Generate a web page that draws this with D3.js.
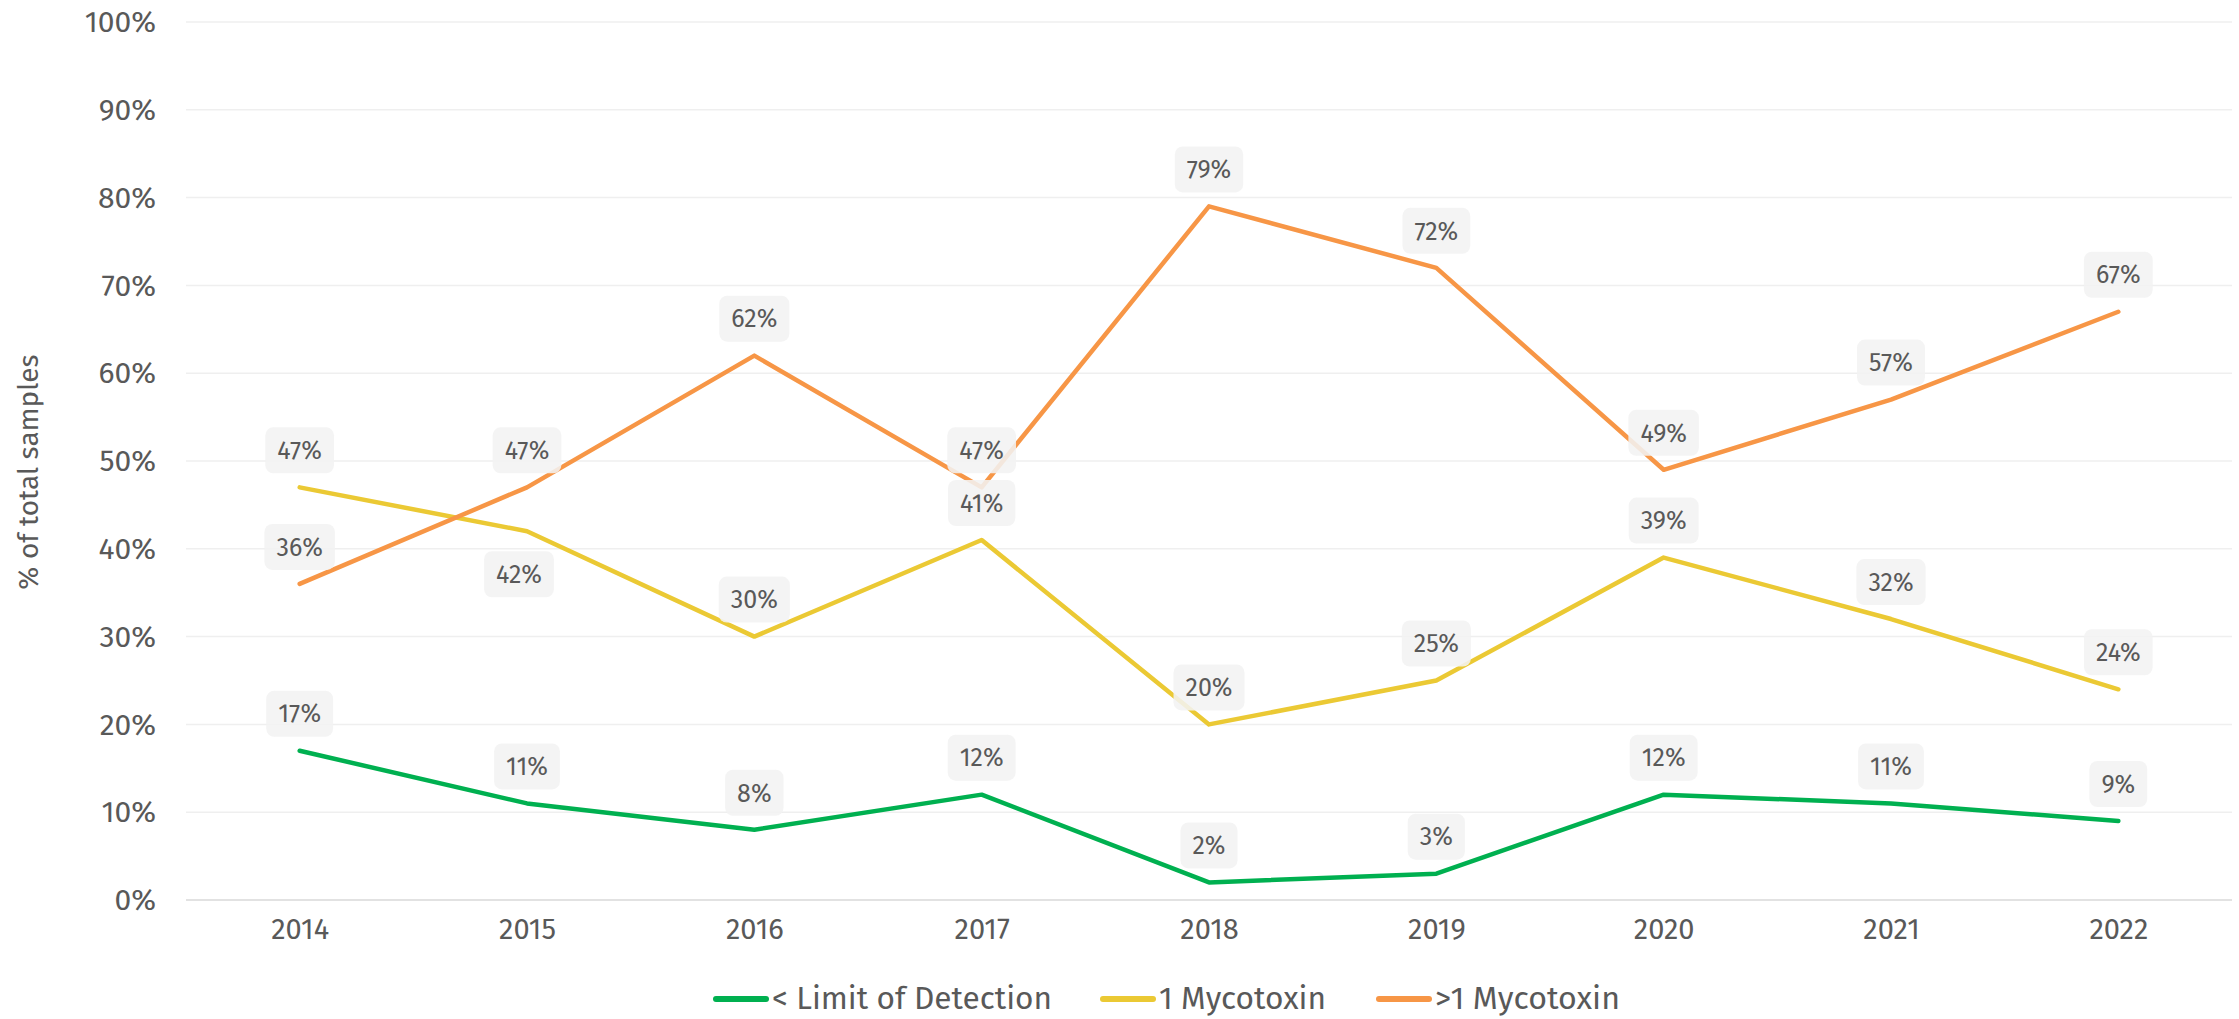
<!DOCTYPE html>
<html>
<head>
<meta charset="utf-8">
<script src="https://cdn.jsdelivr.net/npm/d3@7"></script>
<style>
  body { margin: 0; background: #fff; }
  text { font-family: "Fira Sans", "Noto Sans", sans-serif; fill: #595959; }
</style>
</head>
<body>
<div id="chart"></div>
<script>
// Data
var years = ["2014", "2015", "2016", "2017", "2018", "2019", "2020", "2021", "2022"];
var seriesNames = ["< Limit of Detection", "1 Mycotoxin", ">1 Mycotoxin"];
var belowLOD = [17, 11, 8, 12, 2, 3, 12, 11, 9];
var oneMyco = [47, 42, 30, 41, 20, 25, 39, 32, 24];
var multiMyco = [36, 47, 62, 47, 79, 72, 49, 57, 67];
var yTicks = [0, 10, 20, 30, 40, 50, 60, 70, 80, 90, 100];
var colors = ["#00b050", "#ebc934", "#f79646"];

var seriesValues = [belowLOD, oneMyco, multiMyco];

var svgWidth = 2239;
var svgHeight = 1019;
var margin = { top: 22, right: 7, bottom: 119, left: 186 };
var width = svgWidth - margin.left - margin.right;
var height = svgHeight - margin.top - margin.bottom;

var svg = d3.select("#chart")
    .append("svg")
    .attr("width", svgWidth)
    .attr("height", svgHeight);

var chartGroup = svg.append("g").attr("transform", `translate(${margin.left}, ${margin.top})`);

// Scales
var xScale = d3.scalePoint()
    .domain(years)
    .range([0, width])
    .padding(0.5);

var yScale = d3.scaleLinear()
    .domain([0, 100])
    .range([height, 0]);

// Gridlines
chartGroup.selectAll(".grid")
    .data(yTicks)
    .enter()
    .append("line")
    .attr("x1", 0)
    .attr("x2", width)
    .attr("y1", d => yScale(d))
    .attr("y2", d => yScale(d))
    .attr("stroke", d => d === 0 ? "#d9d9d9" : "#efefef")
    .attr("stroke-width", 1.5);

// Y axis labels
var leftAxis = d3.axisLeft(yScale).tickValues(yTicks).tickFormat(d => d + "%").tickSize(0).tickPadding(30);
var yAxis = chartGroup.append("g").call(leftAxis);
yAxis.select(".domain").remove();
yAxis.selectAll("text")
    .style("font-size", "30px")
    .attr("fill", "#595959");

// X axis labels
var bottomAxis = d3.axisBottom(xScale).tickSize(0).tickPadding(18);
var xAxis = chartGroup.append("g")
    .attr("transform", `translate(0, ${height})`)
    .call(bottomAxis);
xAxis.select(".domain").remove();
xAxis.selectAll("text")
    .style("font-size", "29px")
    .attr("fill", "#595959");

// Y title
svg.append("text")
    .attr("transform", "rotate(-90)")
    .attr("x", -472)
    .attr("y", 38)
    .attr("text-anchor", "middle")
    .style("font-size", "28px")
    .text("% of total samples");

// Lines
var line = d3.line()
    .x((d, i) => xScale(years[i]))
    .y(d => yScale(d));

chartGroup.selectAll(".series")
    .data(seriesValues)
    .enter()
    .append("path")
    .attr("d", d => line(d))
    .attr("fill", "none")
    .attr("stroke", (d, i) => colors[i])
    .attr("stroke-width", 4.5)
    .attr("stroke-linecap", "round")
    .attr("stroke-linejoin", "round");

// Data labels (only 2015 "1 Mycotoxin" sits below its point)
var labelsBelow = ["1-1"];
var labelData = [];
seriesValues.forEach(function(vals, s) {
    vals.forEach(function(v, i) {
        labelData.push({ s: s, i: i, v: v, below: labelsBelow.indexOf(s + "-" + i) >= 0 });
    });
});

var labels = chartGroup.selectAll(".lbl")
    .data(labelData)
    .enter()
    .append("g")
    .attr("transform", d => `translate(${xScale(years[d.i]) - (d.below ? 8 : 0)}, ${yScale(d.v) + (d.below ? 43 : -37)})`);

var rects = labels.append("rect")
    .attr("fill", "#f2f2f2")
    .attr("fill-opacity", 0.88)
    .attr("rx", 8)
    .attr("ry", 8);

var texts = labels.append("text")
    .attr("text-anchor", "middle")
    .attr("dy", "0.35em")
    .style("font-size", "25px")
    .text(d => d.v + "%");

texts.each(function(d) {
    var w = this.getComputedTextLength() + 24;
    d3.select(this.parentNode).select("rect")
        .attr("x", -w / 2)
        .attr("y", -23)
        .attr("width", w)
        .attr("height", 46);
});

// Legend
var legendX = [713, 1100, 1376];
var legendW = [280, 167, 185];
var legend = svg.selectAll(".legend")
    .data(seriesNames)
    .enter()
    .append("g")
    .attr("transform", (d, i) => `translate(${legendX[i]}, 999)`);

legend.append("line")
    .attr("x1", 3)
    .attr("x2", 53)
    .attr("stroke", (d, i) => colors[i])
    .attr("stroke-width", 6)
    .attr("stroke-linecap", "round");

legend.append("text")
    .attr("x", 59)
    .attr("y", 10)
    .style("font-size", "31px")
    .attr("textLength", (d, i) => legendW[i])
    .attr("lengthAdjust", "spacingAndGlyphs")
    .text(d => d);
</script>
</body>
</html>
